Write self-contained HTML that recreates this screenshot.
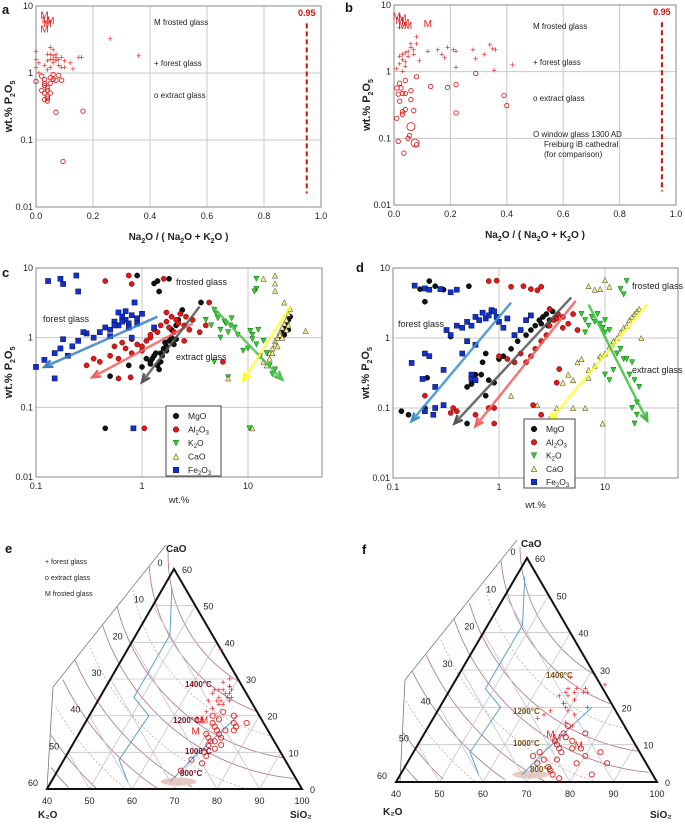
<!DOCTYPE html>
<html><head><meta charset="utf-8"><style>
html,body{margin:0;padding:0;background:#fff;width:685px;height:824px;overflow:hidden;}
svg{display:block;font-family:"Liberation Sans",Arial,sans-serif;overflow:hidden;}
</style></head><body>
<svg id="fig" width="685" height="824" viewBox="0 0 685 824">
<g id="root"></g>
</svg>
<script>
// ---------- DATA ----------
const aForestX=[0.0,0.0,0.0,0.01,0.01,0.03,0.04,0.04,0.05,0.05,0.05,0.06,0.06,0.06,0.07,0.07,0.08,0.08,0.09,0.09,0.1,0.1,0.12,0.13,0.15,0.16,0.26,0.36,0.05,0.06,0.04,0.07];
const aForestY=[2.1,1.6,1.2,1.4,1.0,1.3,1.5,1.1,1.6,1.9,2.4,1.4,1.8,2.2,1.5,1.9,1.6,1.3,1.7,1.2,1.5,1.2,1.4,1.15,1.7,1.7,3.2,1.8,1.2,1.6,1.9,1.7];
const aExtractX=[0.0,0.02,0.02,0.03,0.03,0.03,0.03,0.04,0.04,0.04,0.05,0.05,0.05,0.06,0.06,0.07,0.08,0.09,0.04,0.03,0.07,0.165,0.095,0.04];
const aExtractY=[0.75,0.9,0.55,0.4,0.5,0.65,0.8,0.38,0.45,0.6,0.85,0.7,0.5,0.95,0.8,0.78,0.92,0.78,0.42,0.7,0.26,0.27,0.048,0.55];
const aFrostX=[0.03,0.035,0.04,0.05,0.03];
const aFrostY=[7.5,6.3,5.6,6.2,4.6];
const bForestX=[0.01,0.02,0.02,0.03,0.03,0.04,0.04,0.04,0.05,0.05,0.06,0.06,0.07,0.07,0.08,0.08,0.09,0.12,0.155,0.17,0.18,0.19,0.21,0.22,0.22,0.28,0.29,0.32,0.34,0.35,0.36,0.355,0.42,0.02,0.03];
const bForestY=[1.1,1.3,1.7,1.5,1.8,1.2,1.4,1.9,1.7,2.0,2.3,2.6,2.1,1.8,3.3,2.6,1.45,2.0,2.1,1.8,1.6,2.3,2.1,1.15,2.0,2.1,1.55,1.8,2.5,2.2,2.1,1.05,1.25,4.6,1.0];
const bExtractX=[0.01,0.015,0.02,0.02,0.025,0.03,0.03,0.04,0.04,0.04,0.05,0.06,0.06,0.07,0.08,0.13,0.19,0.22,0.22,0.29,0.39,0.4,0.01,0.015,0.03,0.055,0.035,0.08];
const bExtractY=[0.57,0.46,0.67,0.36,0.57,0.23,0.47,0.74,0.27,0.47,0.1,0.52,0.38,0.26,0.84,0.6,0.58,0.64,0.24,0.94,0.44,0.31,0.2,0.09,0.25,0.11,0.06,0.08];
const bWindowX=[0.06,0.075];
const bWindowY=[0.15,0.085];
const bFrostX=[0.01,0.02,0.03,0.04,0.05,0.03,0.12];
const bFrostY=[7.0,6.0,5.0,5.6,5.0,6.5,5.4];
const cMgOX=[1.0,1.1,1.2,1.3,1.4,1.5,1.6,1.7,1.8,1.9,2.0,2.1,2.2,2.3,2.4,1.25,1.5,1.7,2.0,1.3,1.4,1.45,1.8,0.9,0.45,0.5,3.6,0.75,20,21,22,23,24,25,22,24,1.35,1.55,1.65,1.9,2.1,1.2,1.45];
const cMgOY=[0.38,0.5,0.45,0.55,0.4,0.6,0.7,0.75,0.9,1.0,1.2,1.5,1.8,2.2,2.5,0.5,0.45,0.65,0.8,6.0,6.5,4.6,7.0,7.8,0.05,0.28,3.2,0.4,1.0,1.2,1.4,1.6,1.8,2.0,1.1,1.3,0.6,0.55,0.85,1.3,0.95,0.42,0.35];
const cAlX=[0.3,0.35,0.4,0.5,0.6,0.7,0.8,0.9,1.0,1.1,1.2,1.3,1.5,1.7,1.9,2.1,2.3,2.5,2.8,3.0,3.5,4.0,0.55,0.8,1.0,1.2,1.7,2.0,2.5,0.45,0.75,0.8,1.6,4.3,5.8,1.05,0.6,0.78,1.8,2.2,2.6,1.4,0.65];
const cAlY=[0.4,0.5,0.45,0.55,0.5,0.7,0.6,0.8,0.75,0.9,1.0,1.3,1.5,1.7,2.0,1.8,2.2,1.5,1.3,1.8,1.2,1.5,0.75,0.95,0.65,1.1,2.3,1.2,0.9,6.5,7.8,5.9,7.0,3.2,0.45,0.05,0.26,0.27,1.4,1.6,2.0,1.2,0.85];
const cKX=[4.0,4.5,5.0,5.5,6.0,6.5,7.0,7.5,8.0,4.8,5.5,6.2,10,11,12,13,14,15,16,18,10.5,12.5,12,12,11.5,4.8,6.5,10.3,17,5.2,6.8,9,11];
const cKY=[1.8,1.5,2.2,1.3,1.7,1.2,1.9,1.4,1.1,2.5,1.0,1.6,0.7,1.1,0.8,0.55,0.9,0.6,0.4,0.35,1.25,1.3,7.0,5.0,4.6,0.45,0.27,0.05,0.3,1.9,1.5,0.65,0.95];
const cCaX=[15,16,17,18,19,20,21,22,23,24,25,14,16,18,20,22,24,18,18,18,14,35,11,6.5,13,17,19,21,23];
const cCaY=[0.4,0.5,0.7,0.9,1.0,1.2,1.4,1.6,1.8,2.2,2.6,0.45,0.6,0.8,1.1,3.2,1.5,7.8,6.0,4.7,7.0,1.25,0.05,0.26,0.55,0.6,0.75,1.0,1.3];
const cFeX=[0.1,0.12,0.15,0.17,0.2,0.22,0.25,0.3,0.35,0.4,0.45,0.5,0.55,0.6,0.65,0.7,0.75,0.8,0.9,1.0,0.18,0.28,0.5,0.6,0.7,0.85,0.13,0.17,0.18,0.24,0.25,0.83,0.15,1.3,0.8,0.55,0.65,0.75,0.9];
const cFeY=[0.38,0.48,0.6,0.7,0.55,0.75,0.9,1.15,1.0,1.2,1.4,1.3,1.7,1.5,2.0,1.8,1.6,2.1,1.9,2.2,0.95,1.2,1.05,2.3,2.4,3.2,6.5,7.0,5.9,7.8,4.6,0.05,0.26,1.4,1.0,1.5,1.7,1.4,1.6];
const dMgOX=[0.12,0.14,0.2,0.21,0.35,0.5,0.55,0.6,0.7,0.75,0.8,0.9,1.0,1.1,1.3,1.5,1.8,2.0,2.2,2.4,2.6,2.8,3.0,3.2,3.5,2.5,2.9,0.18,0.22,0.2,0.25,0.3,0.52,0.5,0.75,0.68];
const dMgOY=[0.09,0.08,0.1,0.27,1.05,0.06,0.22,0.3,0.45,0.6,0.25,0.23,0.5,0.55,0.7,0.9,1.1,1.3,1.5,1.8,2.0,2.2,1.8,2.4,2.0,1.6,1.5,5.0,6.5,3.3,5.5,4.9,5.5,0.2,0.15,0.3];
const dAlX=[0.35,0.4,0.6,0.8,0.9,1.0,1.2,1.4,1.6,1.8,2.0,2.2,2.5,2.8,3.0,3.3,3.6,4.0,4.5,5.0,5.5,3.0,3.5,4.0,0.8,0.95,1.3,1.7,2.0,2.3,2.5,0.2,0.37,0.9,2.1,2.5,3.5,3.7];
const dAlY=[0.085,0.09,0.08,0.1,0.06,0.55,0.5,0.45,0.6,0.45,0.55,0.7,0.9,1.1,1.5,1.8,2.2,2.0,1.6,2.2,1.3,2.6,1.9,1.4,6.5,6.6,5.4,5.5,5.0,4.8,5.4,0.15,0.1,0.1,0.11,0.08,0.23,0.36];
const dKX=[6,6.5,7,7.5,8,8.5,9,9.5,10,11,12,13,14,15,16,17,18,19,20,21,9,10,11,12,14,16,15,18,20,19,10,6.5];
const dKY=[2.2,1.8,1.5,2.0,1.7,2.2,1.6,1.4,1.8,1.3,0.8,0.6,0.7,0.5,0.5,0.3,0.45,0.25,0.12,0.2,0.5,0.3,0.25,0.35,5.0,6.5,4.2,0.1,0.08,0.06,1.2,1.2];
const dCaX=[3.0,3.5,4.0,4.5,5.0,5.5,6.0,7.0,8.0,9.0,10,11,12,13,14,15,16,17,18,19,20,21,22,7,8,9,10,11,1.3,2.3,6.5,9.5,5,7];
const dCaY=[0.07,0.1,0.23,0.3,0.25,0.45,0.5,0.35,0.4,0.55,0.6,0.75,0.9,1.0,1.2,1.4,1.5,1.8,2.0,2.2,2.4,2.6,1.0,5.5,4.9,5.0,6.7,5.4,0.15,0.11,0.1,0.06,0.1,0.27];
const dFeX=[0.15,0.19,0.2,0.22,0.25,0.3,0.32,0.35,0.4,0.45,0.5,0.55,0.6,0.65,0.7,0.75,0.8,0.85,0.9,0.95,1.0,1.1,1.2,1.4,1.6,1.8,2.0,0.16,0.2,0.22,0.28,0.35,0.4,0.5,0.55,0.6,0.45,0.55,0.6,0.2,0.24,0.25,0.3];
const dFeY=[0.44,0.26,0.6,0.55,0.2,0.35,1.3,1.1,1.5,1.4,1.7,1.5,2.0,1.8,2.3,1.9,2.1,2.5,2.4,2.0,1.7,1.4,1.9,1.1,1.3,1.8,2.1,5.6,5.1,4.9,5.0,4.5,4.9,0.9,0.3,0.8,0.6,0.26,0.25,0.09,0.08,0.1,0.11];
const eForestS=[66,67,68,69,70,68,69,70,67,68,69,70,71,69,68,67,66,70,68,69,71,67,66,62];
const eForestC=[26,27,25,28,26,24,26,25,29,27,24,27,25,28,22,21,24,23,30,23,24,19,27,38];
const eExtractS=[70,71,72,73,74,72,73,71,74,75,72,70,71,73,74,75,76,72,71,73,70,74,69,69,78,76];
const eExtractC=[15,14,16,13,14,12,15,17,11,12,10,18,19,9,16,18,17,13,21,7,8,20,20,5,18,16];
const eFrostS=[66.5,67.5,67];
const eFrostC=[19,19,16];
const fForestS=[66,67,68,69,70,68,69,70,71,67,68,69,72,66,65,64,70,71,72,73,74,71,75,66];
const fForestC=[23,24,23,24,22,21,20,22,24,25,21,25,24,19,18,17,19,16,18,15,20,25,26,28];
const fExtractS=[72,73,74,75,73,74,76,72,71,73,74,75,70,69,68,71,72,73,78,80,79,77,83,86,84,77];
const fExtractC=[10,9,8,11,12,6,9,13,6,4,3,2,5,8,7,11,15,12,9,7,5,13,8,5,2,1];
const fFrostS=[69,71,77];
const fFrostC=[13,12,10];

// ---------- HELPERS ----------
const NS='http://www.w3.org/2000/svg';
const root=document.getElementById('root');
function el(tag,attrs,parent,text){const e=document.createElementNS(NS,tag);for(const k in attrs)e.setAttribute(k,attrs[k]);if(text!==undefined)e.textContent=text;(parent||root).appendChild(e);return e;}
function txt(x,y,s,size,opts,parent){const o=Object.assign({x:x,y:y,'font-size':size,fill:'#222'},opts||{});return el('text',o,parent,s);}
function logScale(v,lo,hi,a,b){return a+(Math.log10(v)-lo)/(hi-lo)*(b-a);}
function frame(name){const g=el('g',{});return g;}
function yLogAxis(g,L,T,R,B){
  const labs=['10','1','0.1','0.01'];
  for(let i=0;i<4;i++){const y=T+i*(B-T)/3;
    const gl=el('line',{x1:L,x2:R,y1:y,y2:y,stroke:'#c8c8c8','stroke-width':1},g);
    
    const t=txt(L-3,y+3,labs[i],9,{'text-anchor':'end'},g);
    }
}
function yTitle(g,x,y){
  const t=el('text',{x:0,y:0,'font-size':11,'font-weight':'bold',fill:'#222',transform:`translate(${x},${y}) rotate(-90)`,'text-anchor':'middle'},g);
  
  t.innerHTML='wt.%  P<tspan font-size="7" dy="3">2</tspan><tspan dy="-3">O</tspan><tspan font-size="7" dy="3">5</tspan>';
}
function border(g,L,T,R,B){const r=el('rect',{x:L,y:T,width:R-L,height:B-T,fill:'none',stroke:'#888','stroke-width':1},g);}
function mark(g,shape,x,y,name,size){
  size=size||3; let m;
  if(shape==='plus'){m=el('text',{x:x,y:y+3,'font-size':9,fill:'#e02020','text-anchor':'middle'},g,'+');}
  else if(shape==='ring'){m=el('circle',{cx:x,cy:y,r:size,fill:'none',stroke:'#e02020','stroke-width':0.9},g);}
  else if(shape==='M'){m=el('text',{x:x,y:y+4,'font-size':10,fill:'#e02020','text-anchor':'middle'},g,'M');}
  else if(shape==='dot'){m=el('circle',{cx:x,cy:y,r:size,fill:'#111',stroke:'#000','stroke-width':0.5},g);}
  else if(shape==='red'){m=el('circle',{cx:x,cy:y,r:size,fill:'#e01818',stroke:'#600','stroke-width':0.5},g);}
  else if(shape==='sq'){m=el('rect',{x:x-size,y:y-size,width:2*size,height:2*size,fill:'#1030d0',stroke:'#002','stroke-width':0.4},g);}
  else if(shape==='tdown'){m=el('polygon',{points:`${x-size},${y-size} ${x+size},${y-size} ${x},${y+size}`,fill:'#30d030',stroke:'#060','stroke-width':0.5},g);}
  else if(shape==='tup'){m=el('polygon',{points:`${x-size},${y+size} ${x+size},${y+size} ${x},${y-size}`,fill:'#f6f080',stroke:'#333','stroke-width':0.5},g);}
  
  
}
function arrow(g,x1,y1,x2,y2,col,name){
  const l=el('line',{x1:x1,y1:y1,x2:x2,y2:y2,stroke:col,'stroke-width':2.5,'stroke-opacity':0.85},g);
  
  const a=Math.atan2(y2-y1,x2-x1),h=9;
  const p=el('polyline',{points:`${x2-h*Math.cos(a-0.4)},${y2-h*Math.sin(a-0.4)} ${x2},${y2} ${x2-h*Math.cos(a+0.4)},${y2-h*Math.sin(a+0.4)}`,fill:'none',stroke:col,'stroke-width':2.5},g);
  
}
function panelLetter(x,y,s){const t=txt(x,y,s,13,{'font-weight':'bold',fill:'#111'});}

// ---------- PANELS a, b ----------
function ratioPanel(id,L,T,R,B,series,legend){
  const g=frame('chart-'+id);
  const X=v=>L+v*(R-L), Y=v=>logScale(v,1,-2,T,B);
  yLogAxis(g,L,T,R,B);
  for(let i=0;i<=5;i++){const x=L+i*(R-L)/5;
    if(i>0&&i<5){const gl=el('line',{x1:x,x2:x,y1:T,y2:B,stroke:'#c8c8c8'},g);}
    const t=txt(x,B+12,(i/5).toFixed(1),9,{'text-anchor':'middle'},g);}
  border(g,L,T,R,B);
  const thr=el('line',{x1:X(0.95),x2:X(0.95),y1:Y(5.5),y2:Y(0.016),stroke:'#d01010','stroke-width':2,'stroke-dasharray':'5,3'},g);
  
  const tl=txt(X(0.95),T+10,'0.95',9,{'text-anchor':'middle',fill:'#d01010','font-weight':'bold'},g);
  series.forEach(s=>{for(let i=0;i<s.x.length;i++)mark(g,s.shape,X(s.x[i]),Y(s.y[i]),s.name,s.size);});
  legend.forEach(l=>{const t=txt(l[0],l[1],l[2],8,{},g);});
  yTitle(g,L-24,(T+B)/2);
  const xt=el('text',{x:(L+R)/2,y:B+33,'font-size':10,'font-weight':'bold',fill:'#222','text-anchor':'middle'},g);
  
  xt.innerHTML='Na<tspan font-size="7" dy="3">2</tspan><tspan dy="-3">O / ( Na</tspan><tspan font-size="7" dy="3">2</tspan><tspan dy="-3">O + K</tspan><tspan font-size="7" dy="3">2</tspan><tspan dy="-3">O )</tspan>';
}
ratioPanel('a',36,6,321,207,[
  {x:aExtractX,y:aExtractY,shape:'ring',name:'extract-point',size:2.2},
  {x:aForestX,y:aForestY,shape:'plus',name:'forest-point'},
  {x:aFrostX,y:aFrostY,shape:'M',name:'frosted-point'}],
  [[154,25,'M  frosted glass'],[154,66,'+  forest glass'],[154,98,'o  extract glass']]);
ratioPanel('b',394,5,676,205,[
  {x:bExtractX,y:bExtractY,shape:'ring',name:'extract-point',size:2.2},
  {x:bWindowX,y:bWindowY,shape:'ring',name:'window-glass-point',size:4},
  {x:bForestX,y:bForestY,shape:'plus',name:'forest-point'},
  {x:bFrostX,y:bFrostY,shape:'M',name:'frosted-point'}],
  [[533,29,'M    frosted glass'],[533,65,'+    forest glass'],[533,101,'o    extract glass'],[533,137,'O    window glass 1300 AD'],[544,147,'Freiburg iB cathedral'],[544,157,'(for comparison)']]);
panelLetter(2,14,'a');panelLetter(345,12,'b');

// ---------- PANELS c, d ----------
function oxidePanel(id,L,T,R,B,x0,dec,series,arrows,leg,labels,titleY){
  const g=frame('chart-'+id);
  const X=v=>x0+Math.log10(v/0.1)*dec, Y=v=>logScale(v,1,-2,T,B);
  yLogAxis(g,L,T,R,B);
  ['0.1','1','10'].forEach((s,i)=>{const x=x0+i*dec;
    if(i>0){const gl=el('line',{x1:x,x2:x,y1:T,y2:B,stroke:'#c8c8c8'},g);}
    const t=txt(x,B+12,s,9,{'text-anchor':'middle'},g);});
  border(g,L,T,R,B);
  series.forEach(s=>{for(let i=0;i<s.x.length;i++)mark(g,s.shape,X(s.x[i]),Y(s.y[i]),s.name,2.6);});
  arrows.forEach(a=>arrow(g,X(a[0]),Y(a[1]),X(a[2]),Y(a[3]),a[4],a[5]));
  labels.forEach(l=>{const t=txt(l[0],l[1],l[2],9,{},g);});
  const lb=el('rect',{x:leg[0],y:leg[1],width:leg[2],height:leg[3],fill:'#fff',stroke:'#444'},g);
  const names=[['dot','MgO'],['red','Al<tspan font-size="6" dy="2">2</tspan><tspan dy="-2">O</tspan><tspan font-size="6" dy="2">3</tspan>'],['tdown','K<tspan font-size="6" dy="2">2</tspan><tspan dy="-2">O</tspan>'],['tup','CaO'],['sq','Fe<tspan font-size="6" dy="2">2</tspan><tspan dy="-2">O</tspan><tspan font-size="6" dy="2">3</tspan>']];
  names.forEach((n,i)=>{const y=leg[1]+10+i*(leg[3]-16)/4;mark(g,n[0],leg[0]+10,y,'legend-marker',2.8);
    const t=el('text',{x:leg[0]+22,y:y+3,'font-size':8.5,fill:'#222'},g);t.innerHTML=n[1];});
  yTitle(g,L-24,(T+B)/2);
  const xt=txt((L+R)/2,titleY,'wt.%',9.5,{'text-anchor':'middle'},g);
}
oxidePanel('c',36,268,322,477,36,106,[
  {x:cMgOX,y:cMgOY,shape:'dot',name:'mgo-point'},
  {x:cAlX,y:cAlY,shape:'red',name:'al2o3-point'},
  {x:cKX,y:cKY,shape:'tdown',name:'k2o-point'},
  {x:cCaX,y:cCaY,shape:'tup',name:'cao-point'},
  {x:cFeX,y:cFeY,shape:'sq',name:'fe2o3-point'}],
  [[1.4,2.0,0.12,0.38,'#3a7fc0','fe2o3-arrow'],[3.0,1.6,0.34,0.27,'#f06060','al2o3-arrow'],[3.5,2.8,1.0,0.23,'#555','mgo-arrow'],[4.6,2.8,21,0.25,'#50c050','k2o-arrow'],[25,2.8,9,0.24,'#ffff30','cao-arrow']],
  [166,406,55,70],[[43,322,'forest glass'],[176,285,'frosted glass'],[176,360,'extract glass']],503);
oxidePanel('d',393,268,678,478,393,106,[
  {x:dMgOX,y:dMgOY,shape:'dot',name:'mgo-point'},
  {x:dAlX,y:dAlY,shape:'red',name:'al2o3-point'},
  {x:dKX,y:dKY,shape:'tdown',name:'k2o-point'},
  {x:dCaX,y:dCaY,shape:'tup',name:'cao-point'},
  {x:dFeX,y:dFeY,shape:'sq',name:'fe2o3-point'}],
  [[1.3,3.2,0.15,0.065,'#3a8fd0','fe2o3-arrow'],[4.8,3.8,0.38,0.06,'#555','mgo-arrow'],[5.3,3.4,0.6,0.055,'#f06060','al2o3-arrow'],[25,3.0,3.0,0.066,'#ffff30','cao-arrow'],[7,3.0,25,0.066,'#40c040','k2o-arrow']],
  [524,419,51,69],[[398,327,'forest glass'],[632,289,'frosted glass'],[632,373,'extract glass']],508);
panelLetter(2,277,'c');panelLetter(356,272,'d');

// ---------- TERNARY e, f ----------
function gline(g,p1,p2,name,col,w){
  const l=el('line',{x1:p1[0],y1:p1[1],x2:p2[0],y2:p2[1],stroke:col,'stroke-width':w},g);
  
}
function inPoly(x,y,poly){let ins=false;for(let i=0,j=poly.length-1;i<poly.length;j=i++){const xi=poly[i][0],yi=poly[i][1],xj=poly[j][0],yj=poly[j][1];
  if(((yi>y)!==(yj>y))&&(x<(xj-xi)*(y-yi)/(yj-yi)+xi))ins=!ins;}return ins;}
function ternary(id,A,BL,BR,outer,sets,legend,labels){
  const g=frame('chart-'+id);
  const P=(s,c)=>{const k=100-s-c;return [(k*BL[0]+(s-40)*BR[0]+c*A[0])/60,(k*BL[1]+(s-40)*BR[1]+c*A[1])/60];};
  const o=el('polyline',{points:outer.map(p=>p.join(',')).join(' '),fill:'none',stroke:'#777','stroke-width':0.8},g);
  const region=[outer[0],A,BR,BL].concat(outer.slice(1).reverse());
  const W=BR[0]-BL[0];
  const cx=BR[0]+0.05*W, cy=A[1]-0.05*W;
  for(let i=0;i<14;i++){const r=0.35*W+i*0.075*W;
    let d='',pen=false;
    for(let t=0;t<=180;t++){const an=Math.PI/2+t*Math.PI/180*0.9;const x=cx+r*Math.cos(an),y=cy+r*Math.sin(an);
      if(inPoly(x,y,region)){d+=(pen?'L':'M')+x.toFixed(1)+','+y.toFixed(1);pen=true;}else pen=false;}
    if(d){const c=el('path',{d:d,fill:'none',stroke:i%3===2?'#b09098':'#9a4a60','stroke-width':0.8,'stroke-dasharray':i%3===2?'2,2':'none','stroke-opacity':0.8},g);
    }}
  const fp=P(70,2);
  const fill=el('ellipse',{cx:fp[0],cy:fp[1],rx:W*0.07,ry:4,fill:'#e8c8c0'},g);
  
  for(let i=1;i<6;i++){const c=i*10;
    gline(g,P(40,c),P(100-c,c),'cao-gridline','#c4c4c4',0.8);
    const s=40+i*10; gline(g,P(s,0),P(s,100-s),'sio2-gridline','#c4c4c4',0.8);
    const k=i*10; gline(g,P(100-k,0),P(40,60-k),'k2o-gridline','#c4c4c4',0.8);}
  const b1=el('path',{d:`M${P(42,55)[0]},${P(42,55)[1]} L${P(48,42)[0]},${P(48,42)[1]} L${P(48,25)[0]},${P(48,25)[1]} L${P(54,20)[0]},${P(54,20)[1]} L${P(53,8)[0]},${P(53,8)[1]} L${P(58,2)[0]},${P(58,2)[1]} M${P(75,20)[0]},${P(75,20)[1]} L${P(70,8)[0]},${P(70,8)[1]} L${P(68,2)[0]},${P(68,2)[1]}`,fill:'none',stroke:'#5aa0d0','stroke-width':1},g);
  
  const tri=el('polygon',{points:`${A.join(',')} ${BL.join(',')} ${BR.join(',')}`,fill:'none',stroke:'#111','stroke-width':2},g);
  
  sets.forEach(s=>{for(let i=0;i<s.s.length;i++){const p=P(s.s[i],s.c[i]);mark(g,s.shape,p[0],p[1],s.name,2.6);}});
  for(let i=0;i<=6;i++){const s=40+i*10;const p=P(s,0);
    const t=txt(p[0],BL[1]+15,String(s),9,{'text-anchor':'middle'},g);
    const c=i*10;const q=P(100-c,c);const t2=txt(q[0]+8,q[1]+4,String(c),9,{},g);
    const r=P(40,60-c);const t3=txt(r[0]-14,r[1]-3,String(c),9,{'text-anchor':'middle'},g);}
  labels.forEach(l=>{const t=txt(l[0],l[1],l[2],l[3]||9,{'font-weight':'bold',fill:l[4]||'#222'},g);});
  legend.forEach(l=>{const t=txt(l[0],l[1],l[2],7,{},g);});
}
ternary('e',[174,569],[47,789],[302,789],[[166,545],[53,687],[47,789]],[
  {s:eExtractS,c:eExtractC,shape:'ring',name:'extract-point'},
  {s:eForestS,c:eForestC,shape:'plus',name:'forest-point'},
  {s:eFrostS,c:eFrostC,shape:'M',name:'frosted-point'}],
  [[45,564,'+  forest glass'],[45,580,'o  extract glass'],[45,596,'M frosted glass']],
  [[166,552,'CaO',10],[38,818,'K₂O',10],[290,818,'SiO₂',10],[185,687,'1400°C',8,'#7a1020'],[173,723,'1200°C',8,'#7a1020'],[185,754,'1000°C',8,'#7a1020'],[180,776,'800°C',8,'#7a1020']]);
ternary('f',[527,558],[396,782],[657,782],[[517,540],[405,680],[400,782]],[
  {s:fExtractS,c:fExtractC,shape:'ring',name:'extract-point'},
  {s:fForestS,c:fForestC,shape:'plus',name:'forest-point'},
  {s:fFrostS,c:fFrostC,shape:'M',name:'frosted-point'}],
  [],
  [[521,547,'CaO',10],[383,815,'K₂O',10],[650,818,'SiO₂',10],[546,678,'1400°C',8,'#7a5010'],[513,714,'1200°C',8,'#7a5010'],[513,746,'1000°C',8,'#7a5010'],[530,772,'800°C',8,'#7a5010']]);
panelLetter(5,553,'e');panelLetter(362,554,'f');
</script>
</body></html>
